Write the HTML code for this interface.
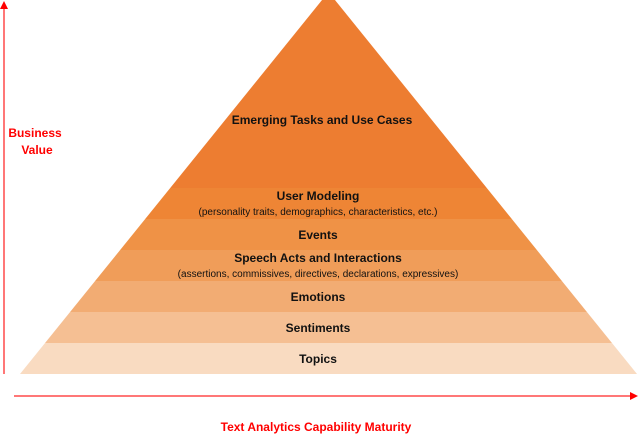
<!DOCTYPE html>
<html><head><style>
body{margin:0;width:638px;height:442px;overflow:hidden;background:#fff;font-family:"Liberation Sans",sans-serif}
svg{display:block}
</style></head><body>
<svg width="638" height="442" viewBox="0 0 638 442" xmlns="http://www.w3.org/2000/svg">
<defs><clipPath id="p"><polygon points="328.5,-8 637,374 20,374"/></clipPath></defs>
<g clip-path="url(#p)">
<rect x="0" y="-10" width="638" height="198" fill="#ED7D31"/>
<rect x="0" y="188" width="638" height="31" fill="#EE8535"/>
<rect x="0" y="219" width="638" height="31" fill="#EF9246"/>
<rect x="0" y="250" width="638" height="31" fill="#F09D59"/>
<rect x="0" y="281" width="638" height="31" fill="#F2AC73"/>
<rect x="0" y="312" width="638" height="31" fill="#F5BF93"/>
<rect x="0" y="343" width="638" height="31" fill="#F9DBC1"/>
</g>
<line x1="4" y1="8" x2="4" y2="374" stroke="#F77" stroke-width="2"/>
<polygon points="4,1 0,9 8,9" fill="#F00"/>
<line x1="14" y1="396" x2="630" y2="396" stroke="#F77" stroke-width="2"/>
<polygon points="638,396 630,392 630,400" fill="#F00"/>
<g font-weight="bold" fill="#F00" font-size="12" text-anchor="middle">
<text x="35" y="137">Business</text>
<text x="37" y="154">Value</text>
<text x="316" y="431">Text Analytics Capability Maturity</text>
</g>
<g fill="#111" text-anchor="middle" font-size="12">
<text x="322" y="124" font-weight="bold">Emerging Tasks and Use Cases</text>
<text x="318" y="200" font-weight="bold">User Modeling</text>
<text x="318" y="215" font-size="10">(personality traits, demographics, characteristics, etc.)</text>
<text x="318" y="239" font-weight="bold">Events</text>
<text x="318" y="262" font-weight="bold">Speech Acts and Interactions</text>
<text x="318" y="277" font-size="10">(assertions, commissives, directives, declarations, expressives)</text>
<text x="318" y="301" font-weight="bold">Emotions</text>
<text x="318" y="332" font-weight="bold">Sentiments</text>
<text x="318" y="363" font-weight="bold">Topics</text>
</g>
</svg>
</body></html>
